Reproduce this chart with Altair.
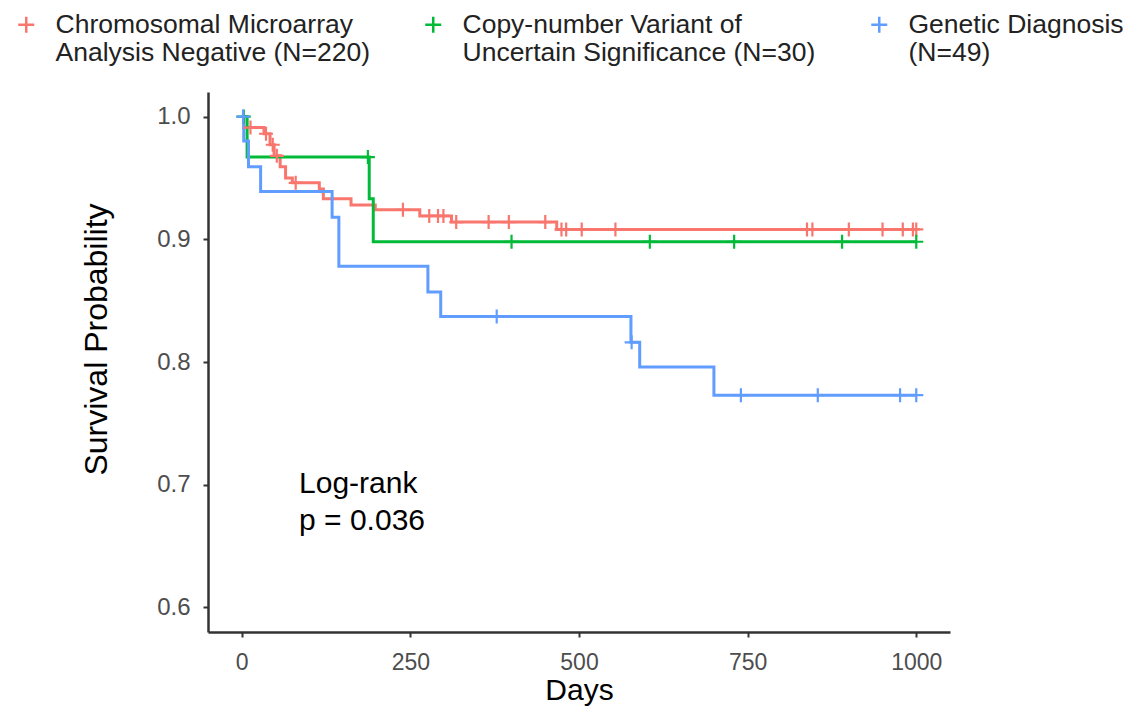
import altair as alt
import pandas as pd

groups = [
    "Chromosomal Microarray Analysis Negative (N=220)",
    "Copy-number Variant of Uncertain Significance (N=30)",
    "Genetic Diagnosis (N=49)",
]
label_lines = [
    ["Chromosomal Microarray", "Analysis Negative (N=220)"],
    ["Copy-number Variant of", "Uncertain Significance (N=30)"],
    ["Genetic Diagnosis", "(N=49)"],
]
colors = ["#F8766D", "#00BA38", "#619CFF"]

# Kaplan-Meier step points (day, survival)
cma_days = [0, 3, 33, 42, 48, 57, 65, 75, 115, 121, 162, 198, 264, 311, 467, 1000]
cma_surv = [1.0, 0.991, 0.986, 0.977, 0.968, 0.959, 0.950, 0.946, 0.941, 0.933,
            0.928, 0.924, 0.919, 0.914, 0.908, 0.908]
cma_cens = [13, 36, 46, 52, 80, 239, 278, 291, 299, 318, 366, 396, 450, 474, 481,
            504, 554, 838, 846, 900, 950, 980, 995, 1000]

cnv_days = [0, 8, 189, 195, 1000]
cnv_surv = [1.0, 0.967, 0.933, 0.898, 0.898]
cnv_cens = [3, 187, 400, 605, 730, 890, 1000]

gen_days = [0, 3, 10, 28, 134, 144, 276, 295, 577, 590, 700, 1000]
gen_surv = [1.0, 0.980, 0.959, 0.939, 0.918, 0.878, 0.857, 0.837, 0.816, 0.796,
            0.773, 0.773]
gen_cens = [2, 378, 578, 740, 854, 976, 1000]

x_ticks = [0, 250, 500, 750, 1000]
y_ticks = [0.6, 0.7, 0.8, 0.9, 1.0]

annot_text = ["Log-rank", "p = 0.036"]
annot_day = [85, 85]
annot_surv = [0.7005, 0.6705]

curves = [(cma_days, cma_surv, cma_cens), (cnv_days, cnv_surv, cnv_cens),
          (gen_days, gen_surv, gen_cens)]

line_rows, cens_rows = [], []
for g, (d, s, c) in zip(groups, curves):
    for di, si in zip(d, s):
        line_rows.append({"group": g, "day": di, "surv": si})
    for ci in c:
        # survival level of the step curve at the censoring time
        lvl = [si for di, si in zip(d, s) if di <= ci][-1]
        cens_rows.append({"group": g, "day": ci, "surv": lvl})

line_df = pd.DataFrame(line_rows)
cens_df = pd.DataFrame(cens_rows)
annot_df = pd.DataFrame({"text": annot_text, "day": annot_day, "surv": annot_surv})

label_expr = " : ".join(
    [f"datum.label == '{g}' ? ['{l[0]}', '{l[1]}']" for g, l in zip(groups, label_lines)]
) + " : datum.label"

cross = "M-1,0H1M0,-1V1"

xscale = alt.Scale(domain=[-50, 1050], nice=False, zero=False)
yscale = alt.Scale(domain=[0.58, 1.02], nice=False, zero=False)
cscale = alt.Scale(domain=groups, range=colors)

xaxis = alt.Axis(values=x_ticks, format="d", title="Days", grid=False,
                 domainColor="#333333", domainWidth=2.5, tickColor="#333333",
                 tickWidth=2, tickSize=5, labelFontSize=23, labelColor="#4D4D4D",
                 labelPadding=14, titleFontSize=30, titleColor="black",
                 titleFontWeight="normal", titlePadding=1)
yaxis = alt.Axis(values=y_ticks, format=".1f", title="Survival Probability",
                 grid=False, domainColor="#333333", domainWidth=2.5,
                 tickColor="#333333", tickWidth=2, tickSize=5, labelFontSize=24,
                 labelColor="#4D4D4D", labelPadding=13, titleFontSize=32,
                 titleColor="black", titleFontWeight="normal",
                 titleX=-95, titleY=247)

lines = alt.Chart(line_df).mark_line(interpolate="step-after", strokeWidth=3).encode(
    x=alt.X("day:Q", scale=xscale, axis=xaxis),
    y=alt.Y("surv:Q", scale=yscale, axis=yaxis),
    color=alt.Color("group:N", scale=cscale, sort=groups,
                    legend=alt.Legend(title=None, orient="none", legendX=-195,
                                      legendY=-81, direction="horizontal",
                                      columns=3, columnPadding=50,
                                      labelExpr=label_expr, labelFontSize=26.5,
                                      labelColor="#222222",
                                      labelLimit=500, labelOffset=16,
                                      symbolType=cross, symbolSize=256,
                                      symbolStrokeWidth=2.5,
                                      symbolFillColor="transparent")),
)

points = alt.Chart(cens_df).mark_point(shape=cross, filled=False, size=196,
                                        strokeWidth=2.2, opacity=1).encode(
    x=alt.X("day:Q", scale=xscale),
    y=alt.Y("surv:Q", scale=yscale),
    color=alt.Color("group:N", scale=cscale, legend=None),
)

texts = alt.Chart(annot_df).mark_text(align="left", baseline="middle", fontSize=30,
                                      color="black").encode(
    x=alt.X("day:Q", scale=xscale),
    y=alt.Y("surv:Q", scale=yscale),
    text="text:N",
)

chart = alt.layer(lines, points, texts).properties(
    width=742, height=540,
    autosize=alt.AutoSizeParams(type="none"),
    padding={"left": 200, "top": 84, "right": 180, "bottom": 78},
).configure(font="Liberation Sans").configure_view(stroke=None)

chart.save("out.html", embed_options={"renderer": "svg", "actions": False})
